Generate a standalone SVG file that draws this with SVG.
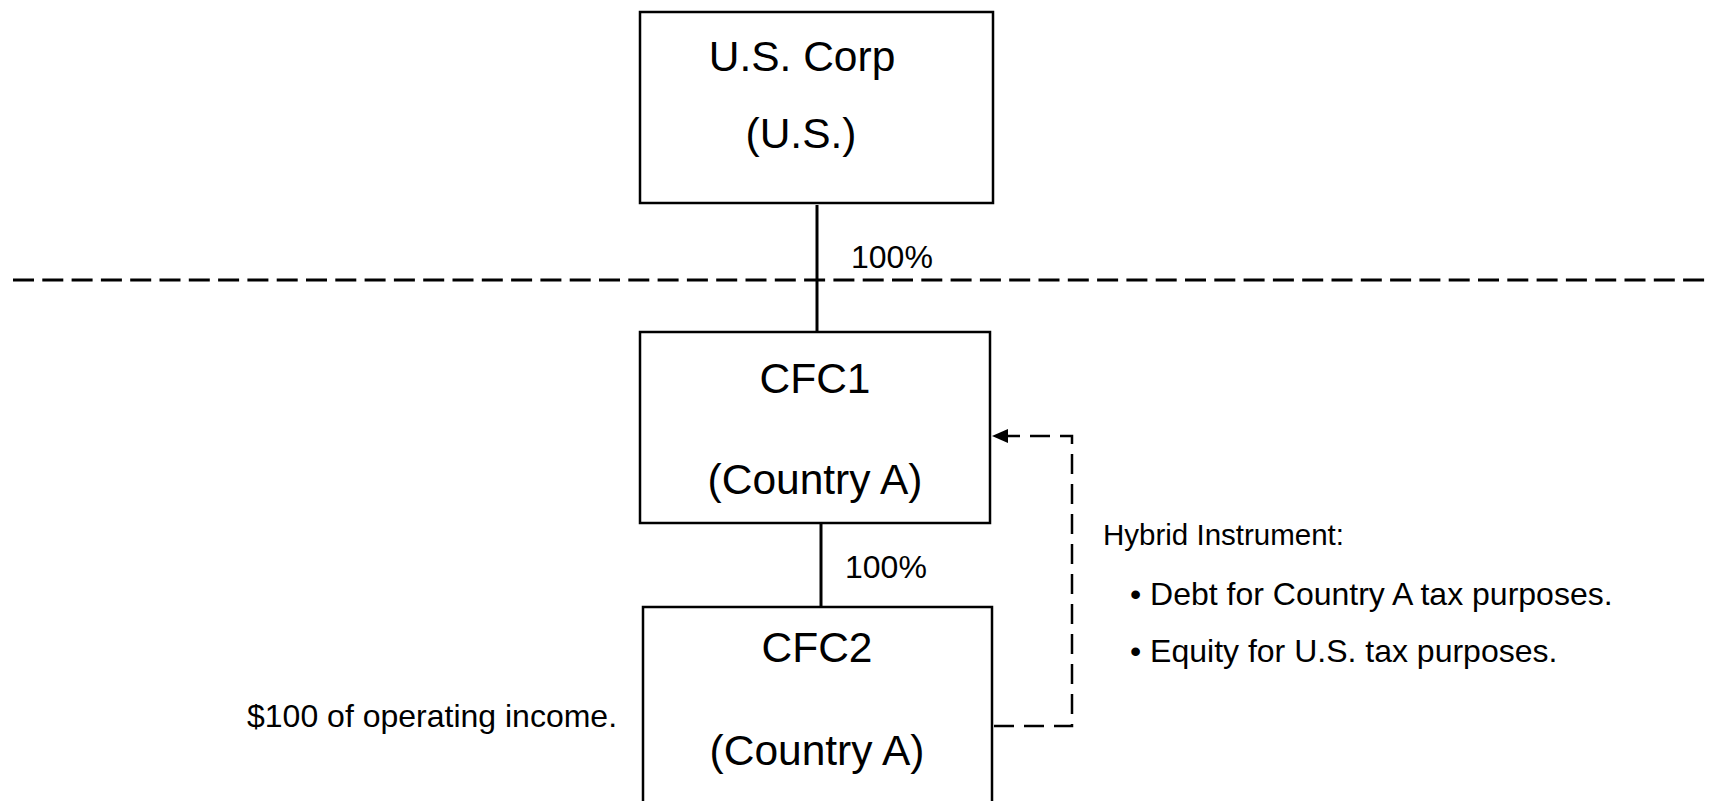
<svg xmlns="http://www.w3.org/2000/svg" width="1710" height="801" viewBox="0 0 1710 801">
  <style>
    .box { fill: #ffffff; stroke: #000000; stroke-width: 2.5; }
    .big { font-family: "Liberation Sans", Arial, sans-serif; font-size: 42.5px; fill: #000000; text-anchor: middle; }
    .small { font-family: "Liberation Sans", Arial, sans-serif; font-size: 32px; fill: #000000; }
    .head { font-family: "Liberation Sans", Arial, sans-serif; font-size: 29.5px; fill: #000000; }
    .own { stroke: #000000; stroke-width: 3; fill: none; }
    .border { stroke: #000000; stroke-width: 3; stroke-dasharray: 21 8.3; fill: none; }
    .hybrid { stroke: #000000; stroke-width: 2.5; stroke-dasharray: 20 10; fill: none; }
  </style>
  <defs>
    <marker id="arrow" viewBox="0 0 16 14" refX="16" refY="7" markerWidth="16" markerHeight="14" markerUnits="userSpaceOnUse" orient="auto">
      <path d="M0,0 L16,7 L0,14 Z" fill="#000000"/>
    </marker>
  </defs>
  <rect width="1710" height="801" fill="#ffffff"/>

  <!-- jurisdiction boundary -->
  <line class="border" x1="13" y1="280" x2="1710" y2="280"/>

  <g id="connectors">
    <line class="own" x1="817" y1="205" x2="817" y2="332"/>
    <text class="small" x="851" y="268">100%</text>
    <line class="own" x1="821" y1="524" x2="821" y2="607"/>
    <text class="small" x="845" y="578">100%</text>
    <polyline class="hybrid" points="994,726 1072,726 1072,436 992,436" marker-end="url(#arrow)"/>
  </g>

  <g id="us-corp">
    <rect class="box" x="640" y="12" width="353" height="191"/>
    <text class="big" x="802" y="71">U.S. Corp</text>
    <text class="big" x="801" y="148">(U.S.)</text>
  </g>

  <g id="cfc1">
    <rect class="box" x="640" y="332" width="350" height="191"/>
    <text class="big" x="815" y="393">CFC1</text>
    <text class="big" x="815" y="494">(Country A)</text>
  </g>

  <g id="cfc2">
    <rect class="box" x="643" y="607" width="349" height="210"/>
    <text class="big" x="817" y="662">CFC2</text>
    <text class="big" x="817" y="765">(Country A)</text>
  </g>

  <g id="hybrid-note">
    <text class="head" x="1103" y="545">Hybrid Instrument:</text>
    <text class="small" x="1130" y="605">• Debt for Country A tax purposes.</text>
    <text class="small" x="1130" y="662">• Equity for U.S. tax purposes.</text>
  </g>

  <g id="income-note">
    <text class="small" x="247" y="727">$100 of operating income.</text>
  </g>
</svg>
